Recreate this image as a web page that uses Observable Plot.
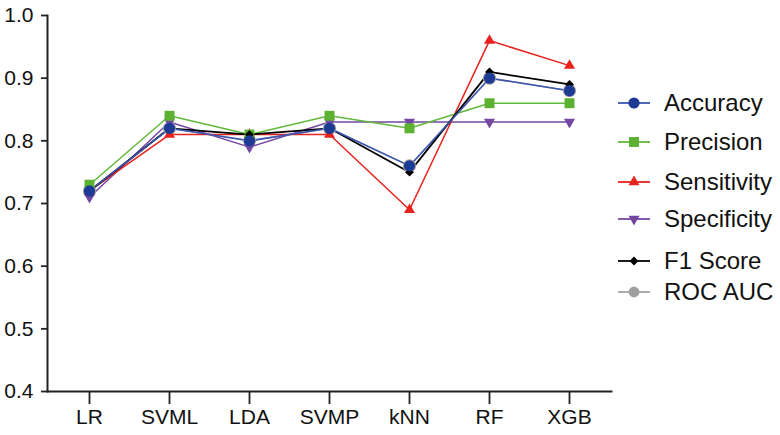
<!DOCTYPE html>
<html>
<head>
<meta charset="utf-8">
<script src="https://cdn.jsdelivr.net/npm/d3@7"></script>
<script src="https://cdn.jsdelivr.net/npm/@observablehq/plot@0.6"></script>
<style>
  html, body { margin: 0; padding: 0; background: #fff; }
  #wrap { position: relative; width: 780px; height: 435px; font-family: "Liberation Sans", Arial, sans-serif; }
  #legend { position: absolute; left: 612px; top: 0; }
  .row { position: absolute; left: 0; display: flex; align-items: center; white-space: nowrap; }
  .row span { font-size: 24px; color: #111; margin-left: 12px; line-height: 1; }
</style>
</head>
<body>
<div id="wrap"><div id="legend"></div></div>
<script>
const models = ["LR", "SVML", "LDA", "SVMP", "kNN", "RF", "XGB"];
const seriesNames = ["Accuracy", "Precision", "Sensitivity", "Specificity", "F1 Score", "ROC AUC"];
const accuracy    = [0.72, 0.82, 0.80, 0.82, 0.76, 0.90, 0.88];
const precision   = [0.73, 0.84, 0.81, 0.84, 0.82, 0.86, 0.86];
const sensitivity = [0.72, 0.81, 0.81, 0.81, 0.69, 0.96, 0.92];
const specificity = [0.71, 0.83, 0.79, 0.83, 0.83, 0.83, 0.83];
const f1Score     = [0.72, 0.82, 0.81, 0.82, 0.75, 0.91, 0.89];
const rocAuc      = [0.72, 0.82, 0.80, 0.82, 0.76, 0.90, 0.88];
const yTicks = [0.4, 0.5, 0.6, 0.7, 0.8, 0.9, 1.0];

const valuesBySeries = {
  "Accuracy": accuracy, "Precision": precision, "Sensitivity": sensitivity,
  "Specificity": specificity, "F1 Score": f1Score, "ROC AUC": rocAuc
};
const styleBySeries = {
  "Accuracy":    {line: "#3b56b3", fill: "#1d3a95", symbol: "circle",   r: 5.6, rotate: 0, sw: 1.5},
  "Precision":   {line: "#62b83a", fill: "#5cb230", symbol: "square",   r: 5.6, rotate: 0, sw: 1.5},
  "Sensitivity": {line: "#e8221d", fill: "#e8221d", symbol: "triangle", r: 4.1, rotate: 0, sw: 1.5},
  "Specificity": {line: "#7447a2", fill: "#7447a2", symbol: "triangle", r: 4.1, rotate: 180, sw: 1.5},
  "F1 Score":    {line: "#000000", fill: "#000000", symbol: "diamond2", r: 4.0, rotate: 0, sw: 1.8},
  "ROC AUC":     {line: "#a3a3a3", fill: "#a0a0a0", symbol: "circle",   r: 6.6, rotate: 0, sw: 1.5}
};
const drawOrder = ["ROC AUC", "Specificity", "Sensitivity", "Precision", "F1 Score", "Accuracy"];

const marks = [];
for (const name of drawOrder) {
  const st = styleBySeries[name];
  const rows = models.map((m, i) => ({model: m, value: valuesBySeries[name][i]}));
  marks.push(Plot.line(rows, {x: "model", y: "value", stroke: st.line, strokeWidth: st.sw}));
}
for (const name of drawOrder) {
  const st = styleBySeries[name];
  const rows = models.map((m, i) => ({model: m, value: valuesBySeries[name][i]}));
  marks.push(Plot.dot(rows, {x: "model", y: "value", symbol: st.symbol, r: st.r, fill: st.fill, stroke: "none", rotate: st.rotate}));
}

const chart = Plot.plot({
  width: 780,
  height: 435,
  marginLeft: 47,
  marginRight: 169,
  marginTop: 15,
  marginBottom: 44,
  style: {fontFamily: "'Liberation Sans', Arial, sans-serif", fontSize: "21px", color: "#111", background: "white", overflow: "visible"},
  x: {type: "point", domain: models, padding: 0.5},
  y: {domain: [0.4, 1.0]},
  marks: [
    Plot.axisX({ticks: models, tickSize: 13, tickPadding: 5, strokeWidth: 1.8, stroke: "#222", label: null, fill: "#111"}),
    Plot.axisY({ticks: yTicks, tickFormat: d3.format(".1f"), tickSize: 6, tickPadding: 8, strokeWidth: 1.8, stroke: "#222", label: null, fill: "#111"}),
    Plot.frame({anchor: "left", stroke: "#222", strokeWidth: 2}),
    Plot.frame({anchor: "bottom", stroke: "#222", strokeWidth: 2}),
    ...marks
  ]
});
document.getElementById("wrap").prepend(chart);
chart.style.position = "absolute";
chart.style.left = "0";
chart.style.top = "0";

// Legend
const legend = d3.select("#legend");
const rowTops = [103, 142, 182, 219, 261, 292];
const symMap = {circle: d3.symbolCircle, square: d3.symbolSquare, triangle: d3.symbolTriangle, diamond2: d3.symbolDiamond2};
seriesNames.forEach((name, i) => {
  const st = styleBySeries[name];
  const row = legend.append("div").attr("class", "row").style("top", (rowTops[i] - 12) + "px").style("height", "24px");
  const svg = row.append("svg").attr("width", 40).attr("height", 24);
  svg.append("line").attr("x1", 6).attr("x2", 38).attr("y1", 12).attr("y2", 12)
    .attr("stroke", st.line).attr("stroke-width", 1.8);
  const rr = name === "ROC AUC" ? 5.4 : st.r;
  svg.append("path").attr("d", d3.symbol(symMap[st.symbol], Math.PI * rr * rr)())
    .attr("transform", `translate(22,12) rotate(${st.rotate})`).attr("fill", st.fill);
  row.append("span").text(name);
});
</script>
</body>
</html>
